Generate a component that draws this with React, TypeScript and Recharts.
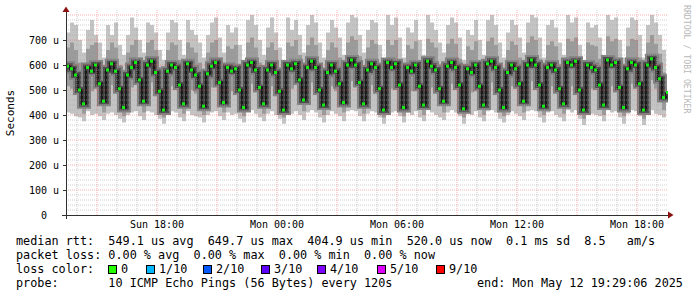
import {
  ComposedChart,
  Area,
  Line,
  Scatter,
  XAxis,
  YAxis,
  ReferenceLine,
} from "recharts";

// smokeping-style latency graph, 30h window, one sample every 12 minutes
const START_HOUR = 13.45; // Sun 13:27
const STEP_HOUR = 0.2;

// median rtt (us)
const median = [
  595, 585, 560, 500, 445,  590, 575, 600, 525, 455,  580, 605, 575, 505, 430,
  560, 590, 610, 540, 455,  600, 615, 570, 495, 420,  575, 600, 590, 520, 445,
  605, 580, 560, 515, 435,  565, 595, 610, 530, 450,  590, 575, 585, 500, 430,
  600, 610, 580, 510, 445,  580, 600, 570, 495, 420,  600, 585, 605, 540, 460,
  590, 615, 590, 500, 440,  570, 600, 575, 525, 450,  600, 620, 600, 530, 445,
  580, 605, 590, 505, 420,  610, 590, 605, 520, 430,  590, 575, 600, 515, 440,
  615, 595, 580, 505, 455,  595, 610, 590, 520, 425,  585, 570, 600, 515, 440,
  605, 615, 590, 500, 430,  570, 600, 585, 525, 455,  600, 620, 600, 520, 435,
  590, 600, 580, 505, 445,  610, 600, 615, 500, 420,  600, 590, 580, 520, 440,
  620, 600, 610, 510, 430,  585, 610, 600, 525, 420,  600, 625, 590, 545, 470,
  490,
];

// fastest ping of each round
const pingMin = [
  410, 405, 395, 390, 375,  415, 400, 405, 395, 380,  405, 410, 400, 385, 370,
  400, 410, 415, 395, 380,  415, 410, 400, 385, 365,  405, 415, 410, 390, 375,
  415, 400, 395, 390, 370,  400, 410, 415, 395, 380,  410, 400, 405, 385, 370,
  415, 420, 405, 390, 375,  405, 415, 400, 385, 365,  415, 405, 415, 400, 380,
  410, 420, 410, 390, 370,  400, 415, 405, 395, 375,  415, 420, 415, 395, 375,
  405, 415, 410, 390, 365,  420, 410, 415, 395, 370,  410, 400, 415, 390, 375,
  420, 410, 400, 390, 380,  410, 420, 410, 395, 365,  405, 400, 415, 390, 375,
  415, 420, 410, 385, 370,  400, 415, 405, 395, 380,  415, 420, 415, 390, 370,
  410, 415, 400, 390, 375,  420, 410, 420, 385, 360,  415, 405, 400, 395, 375,
  420, 410, 415, 390, 365,  405, 420, 415, 395, 360,  410, 420, 405, 400, 390,
  400,
];

// slowest ping of each round
const pingMax = [
  730, 770, 760, 700, 650,  740, 780, 720, 690, 630,  760, 720, 770, 680, 640,
  720, 790, 750, 700, 650,  770, 760, 730, 660, 620,  730, 780, 770, 700, 640,
  780, 740, 720, 690, 630,  720, 770, 790, 710, 650,  760, 730, 750, 680, 620,
  780, 800, 760, 700, 640,  750, 790, 730, 670, 620,  790, 740, 780, 720, 650,
  760, 800, 770, 690, 630,  730, 780, 750, 710, 640,  770, 800, 790, 720, 650,
  740, 780, 770, 680, 620,  800, 760, 790, 710, 630,  750, 730, 780, 700, 640,
  800, 770, 740, 690, 650,  760, 790, 770, 710, 620,  740, 720, 780, 700, 640,
  780, 800, 760, 690, 630,  730, 780, 760, 710, 650,  770, 800, 790, 710, 630,
  760, 780, 750, 690, 640,  800, 770, 790, 680, 620,  770, 750, 760, 710, 640,
  800, 780, 790, 700, 630,  750, 790, 780, 720, 630,  760, 800, 770, 720, 660,
  680,
];

// inner smoke (middle pings)
const innerLow = [
  515, 505, 480, 440, 405,  510, 495, 515, 455, 410,  500, 520, 495, 440, 395,
  490, 510, 525, 470, 410,  520, 530, 495, 430, 390,  495, 515, 510, 455, 405,
  520, 500, 485, 450, 400,  490, 510, 525, 465, 410,  510, 495, 505, 440, 395,
  520, 525, 500, 445, 405,  500, 515, 490, 435, 390,  515, 505, 520, 470, 415,
  510, 530, 510, 440, 400,  490, 515, 495, 460, 410,  515, 535, 515, 465, 405,
  500, 520, 510, 445, 390,  525, 505, 520, 455, 395,  510, 495, 515, 450, 400,
  530, 510, 500, 445, 410,  510, 525, 510, 455, 390,  505, 490, 515, 450, 400,
  520, 530, 505, 440, 395,  490, 515, 505, 460, 410,  515, 535, 515, 455, 400,
  510, 515, 500, 445, 405,  525, 515, 530, 440, 385,  515, 505, 500, 455, 400,
  535, 515, 525, 450, 395,  500, 525, 515, 460, 385,  515, 540, 505, 475, 420,
  430,
];

const innerHigh = [
  670, 690, 660, 610, 540,  665, 680, 690, 620, 550,  660, 690, 670, 600, 530,
  650, 680, 700, 630, 550,  690, 700, 660, 590, 520,  660, 690, 680, 620, 540,
  690, 670, 650, 610, 530,  650, 690, 700, 630, 550,  675, 665, 680, 600, 530,
  690, 710, 670, 610, 540,  670, 690, 660, 590, 520,  690, 675, 700, 640, 560,
  680, 710, 680, 600, 540,  660, 690, 670, 630, 550,  690, 715, 700, 635, 545,
  670, 700, 685, 605, 520,  700, 680, 700, 620, 530,  680, 665, 695, 615, 540,
  705, 690, 670, 605, 550,  685, 705, 685, 625, 525,  675, 660, 695, 615, 540,
  695, 710, 680, 600, 530,  660, 695, 680, 630, 555,  690, 715, 700, 625, 535,
  680, 695, 675, 605, 545,  705, 695, 710, 600, 520,  690, 680, 675, 625, 540,
  715, 695, 705, 610, 530,  675, 705, 700, 630, 525,  690, 720, 685, 645, 570,
  590,
];

const timeTicks = [18, 24, 30, 36, 42];
const timeLabels = ["Sun 18:00", "Mon 00:00", "Mon 06:00", "Mon 12:00", "Mon 18:00"];
const rttTicks = [0, 100, 200, 300, 400, 500, 600, 700];

const lossColors = [
  { label: "0", color: "#26ff00", x: 108 },
  { label: "1/10", color: "#00b8ff", x: 146 },
  { label: "2/10", color: "#0059ff", x: 203 },
  { label: "3/10", color: "#5e00ff", x: 261 },
  { label: "4/10", color: "#7e00ff", x: 317 },
  { label: "5/10", color: "#dd00ff", x: 377 },
  { label: "9/10", color: "#ff0000", x: 436 },
];

const legendLines = [
  "median rtt:  549.1 us avg  649.7 us max  404.9 us min  520.0 us now  0.1 ms sd  8.5   am/s",
  "packet loss: 0.00 % avg  0.00 % max  0.00 % min  0.00 % now",
];

const MONO = "'DejaVu Sans Mono', monospace";

const data = median.map((m, i) => ({
  t: START_HOUR + i * STEP_HOUR,
  med: m,
  outer: [pingMin[i], pingMax[i]],
  inner: [innerLow[i], innerHigh[i]],
}));

// grid positions (rrdtool style: minor every 20u / 1h, major every 100u / 3h)
const minorY = Array.from({ length: 40 }, (_, i) => (i + 1) * 20).filter((v) => v % 100 !== 0);
const majorY = [100, 200, 300, 400, 500, 600, 700, 800];
const minorX = Array.from({ length: 30 }, (_, i) => 14 + i).filter((h) => h % 3 !== 0);
const majorX = Array.from({ length: 10 }, (_, i) => 15 + i * 3);

const YTick = (props: any) => {
  const v = props.payload.value;
  return (
    <text x={v === 0 ? 47 : 59} y={props.y + 3.5} textAnchor="end" fontSize={10} fontFamily={MONO} fill="#000">
      {v === 0 ? "0" : `${v} u`}
    </text>
  );
};

const XTick = (props: any) => {
  const idx = timeTicks.indexOf(props.payload.value);
  return (
    <text x={props.x} y={228} textAnchor="middle" fontSize={10} fontFamily={MONO} fill="#000">
      {timeLabels[idx]}
    </text>
  );
};

const GreenMark = (props: any) => {
  if (props.cx == null || props.cy == null) return null;
  return <rect x={props.cx} y={props.cy - 1.5} width={3} height={3} fill="#11ee11" />;
};

export default function App() {
  return (
    <div style={{ position: "absolute", left: 0, top: 0, width: 697, height: 297, background: "#fff" }}>
      <ComposedChart
        width={697}
        height={297}
        data={data}
        margin={{ top: 10, right: 29, bottom: 62, left: 0 }}
      >
        <XAxis
          dataKey="t"
          type="number"
          domain={[13.45, 43.55]}
          ticks={timeTicks}
          tick={<XTick />}
          axisLine={false}
          tickLine={false}
          height={20}
          allowDataOverflow
        />
        <YAxis
          type="number"
          domain={[0, 820]}
          ticks={rttTicks}
          tick={<YTick />}
          axisLine={false}
          tickLine={false}
          width={66}
          allowDataOverflow
        />
        <Area dataKey="outer" type="stepAfter" stroke="none" fill="#c4c4c4" fillOpacity={1} isAnimationActive={false} />
        <Area dataKey="inner" type="stepAfter" stroke="none" fill="#9a9a9a" fillOpacity={1} isAnimationActive={false} />
        <Line dataKey="med" type="stepAfter" stroke="#808080" strokeWidth={10} dot={false} isAnimationActive={false} />
        <Line dataKey="med" type="stepAfter" stroke="#505050" strokeWidth={6} dot={false} isAnimationActive={false} />
        <Line dataKey="med" type="stepAfter" stroke="#1a1a1a" strokeWidth={2.5} dot={false} isAnimationActive={false} />
        <Scatter dataKey="med" shape={<GreenMark />} isAnimationActive={false} />
        {minorY.map((v) => (
          <ReferenceLine key={`my${v}`} y={v} stroke="rgba(170,170,170,0.55)" strokeDasharray="1 1" />
        ))}
        {minorX.map((h) => (
          <ReferenceLine key={`mx${h}`} x={h} stroke="rgba(170,170,170,0.55)" strokeDasharray="1 1" />
        ))}
        {majorY.map((v) => (
          <ReferenceLine key={`My${v}`} y={v} stroke="rgba(235,100,100,0.5)" strokeDasharray="1 1" />
        ))}
        {majorX.map((h) => (
          <ReferenceLine key={`Mx${h}`} x={h} stroke="rgba(235,100,100,0.5)" strokeDasharray="1 1" />
        ))}
      </ComposedChart>
      <svg
        width={697}
        height={297}
        style={{ position: "absolute", left: 0, top: 0, pointerEvents: "none" }}
      >
        {/* axes */}
        <line x1={66} y1={219} x2={66} y2={12} stroke="#303030" strokeWidth={1} shapeRendering="crispEdges" />
        <line x1={62} y1={215} x2={668} y2={215} stroke="#303030" strokeWidth={1} shapeRendering="crispEdges" />
        <polygon points="62.5,12 69.5,12 66,6.5" fill="#8b1010" />
        <polygon points="668,211.5 668,218.5 673.5,215" fill="#8b1010" />
        {rttTicks.map((v) => (
          <line key={v} x1={63} x2={66} y1={215 - v * 0.25} y2={215 - v * 0.25} stroke="#303030" shapeRendering="crispEdges" />
        ))}
        <text
          transform="translate(14,113) rotate(-90)"
          textAnchor="middle"
          fontSize={11}
          fontFamily={MONO}
          fill="#000"
        >
          Seconds
        </text>
        <text
          transform="translate(683.5,5) rotate(90)"
          fontSize={8.2}
          fontFamily={MONO}
          fill="#b8b8b8"
        >
          RRDTOOL / TOBI OETIKER
        </text>
        {/* legend */}
        {legendLines.map((s, i) => (
          <text
            key={i}
            x={16}
            y={245 + i * 14}
            fontSize={11.8}
            fontFamily={MONO}
            fill="#000"
            xmlSpace="preserve"
            style={{ whiteSpace: "pre" }}
          >
            {s}
          </text>
        ))}
        <text x={16} y={273} fontSize={11.8} fontFamily={MONO} fill="#000">
          loss color:
        </text>
        {lossColors.map((c) => (
          <g key={c.label}>
            <rect x={c.x + 0.5} y={265.5} width={8} height={8} fill={c.color} stroke="#000" strokeWidth={1} />
            <text x={c.x + 13} y={273} fontSize={11.8} fontFamily={MONO} fill="#000">
              {c.label}
            </text>
          </g>
        ))}
        <text x={16} y={287} fontSize={11.8} fontFamily={MONO} fill="#000" xmlSpace="preserve" style={{ whiteSpace: "pre" }}>
          {"probe:       10 ICMP Echo Pings (56 Bytes) every 120s"}
        </text>
        <text x={477} y={287} fontSize={11.8} fontFamily={MONO} fill="#000" xmlSpace="preserve" style={{ whiteSpace: "pre" }}>
          {"end: Mon May 12 19:29:06 2025"}
        </text>
      </svg>
    </div>
  );
}
